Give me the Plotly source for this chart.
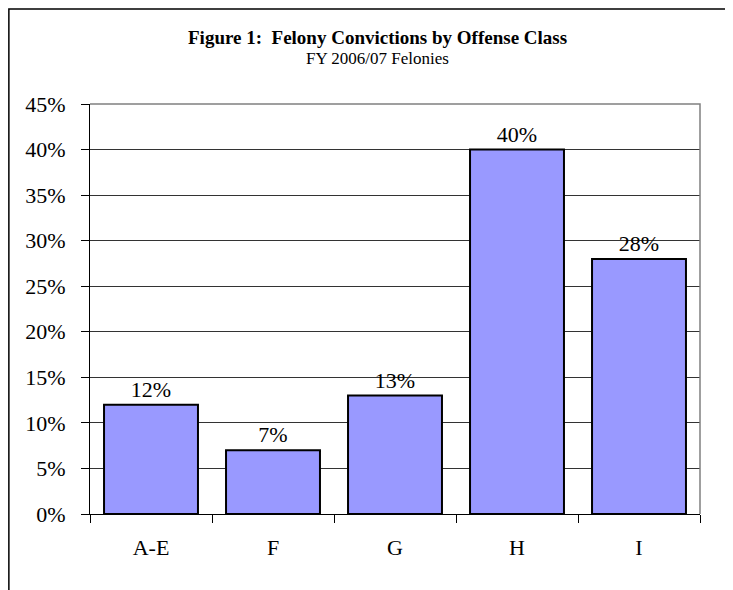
import plotly.graph_objects as go

# Offense classes and share of felony convictions
categories = ['A-E', 'F', 'G', 'H', 'I']
shares = [0.12, 0.07, 0.13, 0.40, 0.28]
labels = ['12%', '7%', '13%', '40%', '28%']

SERIF = 'Liberation Serif, Times New Roman, serif'

fig = go.Figure()

fig.add_trace(go.Bar(
    x=categories,
    y=shares,
    text=labels,
    textposition='outside',
    textfont=dict(family=SERIF, size=22, color='black'),
    cliponaxis=False,
    width=0.77,
    marker=dict(color='#9999FF', line=dict(color='black', width=2)),
    showlegend=False
))

# the page body adds an 8px offset, so the figure is a bit smaller than the window
fig.update_layout(
    width=725,
    height=582,
    margin=dict(l=82, r=33, t=96, b=76),
    paper_bgcolor='white',
    plot_bgcolor='white',
    font=dict(family=SERIF, color='black'),
    bargap=0.23
)

# title and subtitle
fig.add_annotation(
    text='<b>Figure 1:  Felony Convictions by Offense Class</b>',
    xref='paper', yref='paper', x=0.472, y=1.161,
    xanchor='center', yanchor='middle', showarrow=False,
    font=dict(family=SERIF, size=19, color='black')
)
fig.add_annotation(
    text='FY 2006/07 Felonies',
    xref='paper', yref='paper', x=0.472, y=1.112,
    xanchor='center', yanchor='middle', showarrow=False,
    font=dict(family=SERIF, size=17, color='black')
)

fig.update_yaxes(
    range=[0, 0.45],
    dtick=0.05,
    tickformat='.0%',
    showgrid=True,
    gridcolor='#333333',
    gridwidth=1,
    showline=True,
    linecolor='black',
    linewidth=1,
    ticks='outside',
    ticklen=8,
    tickcolor='black',
    ticklabelstandoff=11,
    tickfont=dict(family=SERIF, size=22, color='black'),
    zeroline=False
)

fig.update_xaxes(
    showline=True,
    linecolor='black',
    linewidth=1,
    ticks='outside',
    ticklen=8,
    tickcolor='black',
    tickson='boundaries',
    ticklabelstandoff=14,
    tickfont=dict(family=SERIF, size=22, color='black')
)

# gray top and right border of the plot area
fig.add_shape(type='path', xref='paper', yref='paper',
              path='M 0 1 L 1 1 L 1 0',
              line=dict(color='#808080', width=1.5), layer='above')

# outer frame of the figure (only left and top edges visible)
fig.add_shape(type='path', xref='paper', yref='paper',
              path='M -0.133 -0.3 L -0.133 1.232 L 1.2 1.232',
              line=dict(color='black', width=1.5), layer='above')

fig.write_html("out.html")
